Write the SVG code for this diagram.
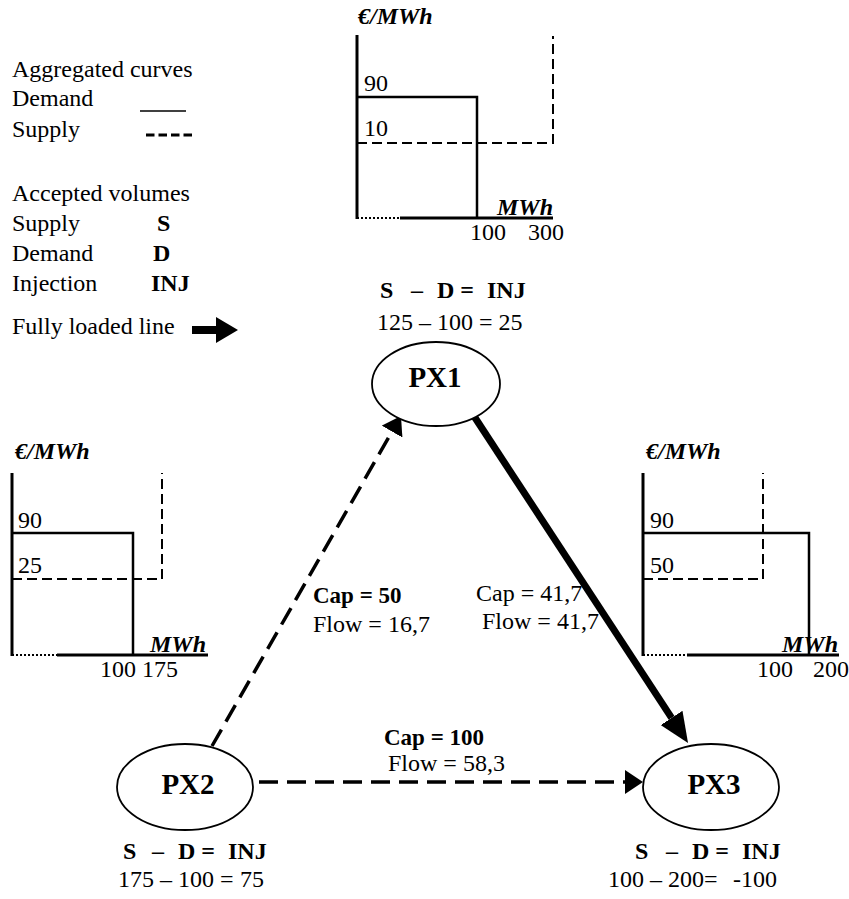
<svg xmlns="http://www.w3.org/2000/svg" width="849" height="899" viewBox="0 0 849 899">
  <style>
    text { font-family: "Liberation Serif", "Times New Roman", serif; font-size: 24px; fill: #000; }
    .b { font-weight: bold; }
    .bi { font-weight: bold; font-style: italic; }
    .lbl { font-weight: bold; font-size: 23px; }
    .node-name { font-size: 29px; font-weight: bold; text-anchor: middle; }
    .axis { stroke: #000; stroke-width: 3; fill: none; }
    .dots { stroke: #000; stroke-width: 2; stroke-dasharray: 2 2; fill: none; }
    .demand { stroke: #000; stroke-width: 2.5; fill: none; }
    .supply { stroke: #000; stroke-width: 2; stroke-dasharray: 10 5; fill: none; }
    .ellipse { fill: #fff; stroke: #000; stroke-width: 1.8; }
    .flow { stroke: #000; stroke-width: 3.5; stroke-dasharray: 19 9; fill: none; }
    .full { stroke: #000; stroke-width: 7; fill: none; }
  </style>
  <defs>
    <marker id="head" markerUnits="userSpaceOnUse" markerWidth="18" markerHeight="24" refX="0" refY="12" orient="auto">
      <path d="M0,0 L18,12 L0,24 Z" fill="#000"/>
    </marker>
    <marker id="head-thick" markerUnits="userSpaceOnUse" markerWidth="30" markerHeight="26" refX="0" refY="13" orient="auto">
      <path d="M0,0 L30,13 L0,26 Z" fill="#000"/>
    </marker>
  </defs>

  <!-- legend -->
  <g id="legend">
    <text x="12" y="77">Aggregated curves</text>
    <text x="12" y="106">Demand</text>
    <line x1="140" y1="111" x2="186" y2="111" stroke="#000" stroke-width="1.5"/>
    <text x="12" y="137">Supply</text>
    <line x1="146" y1="135" x2="193" y2="135" stroke="#000" stroke-width="3" stroke-dasharray="8.5 4"/>
    <text x="12" y="201">Accepted volumes</text>
    <text x="12" y="231">Supply</text>
    <text x="157" y="231" class="b">S</text>
    <text x="12" y="261">Demand</text>
    <text x="153" y="261" class="b">D</text>
    <text x="12" y="291">Injection</text>
    <text x="151" y="291" class="b">INJ</text>
    <text x="12" y="334">Fully loaded line</text>
    <line x1="192" y1="330" x2="218" y2="330" stroke="#000" stroke-width="8"/>
    <path d="M216,317 L238,330 L216,343 Z" fill="#000"/>
  </g>

  <!-- market curves above PX1 -->
  <g id="chart-px1">
    <text x="358" y="24" class="bi">€/MWh</text>
    <line class="axis" x1="357" y1="35" x2="357" y2="219"/>
    <text x="364" y="91">90</text>
    <polyline class="demand" points="357,97 477,97 477,218"/>
    <text x="364" y="136">10</text>
    <polyline class="supply" points="357,143 553,143 553,36"/>
    <line class="dots" x1="357" y1="218" x2="400" y2="218"/>
    <line class="axis" x1="400" y1="218" x2="553" y2="218"/>
    <text x="497" y="215" class="bi">MWh</text>
    <text x="470" y="240">100</text>
    <text x="528" y="240">300</text>
  </g>

  <!-- market curves beside PX2 -->
  <g id="chart-px2">
    <text x="15" y="459" class="bi">€/MWh</text>
    <line class="axis" x1="12" y1="473" x2="12" y2="656"/>
    <text x="18" y="528">90</text>
    <polyline class="demand" points="12,533 133,533 133,655"/>
    <text x="18" y="573">25</text>
    <polyline class="supply" points="12,579 162,579 162,473"/>
    <line class="dots" x1="12" y1="655" x2="57" y2="655"/>
    <line class="axis" x1="57" y1="655" x2="208" y2="655"/>
    <text x="150" y="652" class="bi">MWh</text>
    <text x="100" y="677">100</text>
    <text x="142" y="677">175</text>
  </g>

  <!-- market curves beside PX3 -->
  <g id="chart-px3">
    <text x="646" y="459" class="bi">€/MWh</text>
    <line class="axis" x1="643" y1="473" x2="643" y2="656"/>
    <text x="650" y="528">90</text>
    <polyline class="demand" points="643,533 809,533 809,655"/>
    <text x="650" y="573">50</text>
    <polyline class="supply" points="643,579 763,579 763,473"/>
    <line class="dots" x1="643" y1="655" x2="687" y2="655"/>
    <line class="axis" x1="687" y1="655" x2="839" y2="655"/>
    <text x="782" y="652" class="bi">MWh</text>
    <text x="757" y="677">100</text>
    <text x="813" y="677">200</text>
  </g>

  <!-- interconnectors -->
  <g id="connectors">
    <line class="flow" x1="212" y1="746" x2="392" y2="431.6" marker-end="url(#head)"/>
    <line class="full" x1="470" y1="410" x2="671.6" y2="717.9" marker-end="url(#head-thick)"/>
    <line class="flow" x1="259" y1="782" x2="625" y2="782" marker-end="url(#head)"/>
    <text x="313" y="603" class="lbl">Cap = 50</text>
    <text x="313" y="632">Flow = 16,7</text>
    <text x="476" y="601">Cap = 41,7</text>
    <text x="482" y="629">Flow = 41,7</text>
    <text x="384" y="745" class="lbl">Cap = 100</text>
    <text x="388" y="771">Flow = 58,3</text>
  </g>

  <!-- power exchanges -->
  <g id="px1">
    <ellipse class="ellipse" cx="436" cy="384" rx="64" ry="42"/>
    <text x="435" y="387" class="node-name">PX1</text>
    <text y="298" class="b"><tspan x="380">S</tspan><tspan x="411">–</tspan><tspan x="437">D =</tspan><tspan x="487">INJ</tspan></text>
    <text x="377" y="330">125 – 100 = 25</text>
  </g>

  <g id="px2">
    <ellipse class="ellipse" cx="185" cy="787" rx="68" ry="43"/>
    <text x="188" y="794" class="node-name">PX2</text>
    <text y="859" class="b"><tspan x="123">S</tspan><tspan x="152">–</tspan><tspan x="178">D =</tspan><tspan x="228">INJ</tspan></text>
    <text y="887"><tspan x="118">175 – 100 =</tspan><tspan x="240">75</tspan></text>
  </g>

  <g id="px3">
    <ellipse class="ellipse" cx="711" cy="787" rx="68" ry="43"/>
    <text x="714" y="794" class="node-name">PX3</text>
    <text y="859" class="b"><tspan x="635">S</tspan><tspan x="666">–</tspan><tspan x="692">D =</tspan><tspan x="742">INJ</tspan></text>
    <text y="887"><tspan x="608">100 – 200=</tspan><tspan x="733">-100</tspan></text>
  </g>
</svg>
